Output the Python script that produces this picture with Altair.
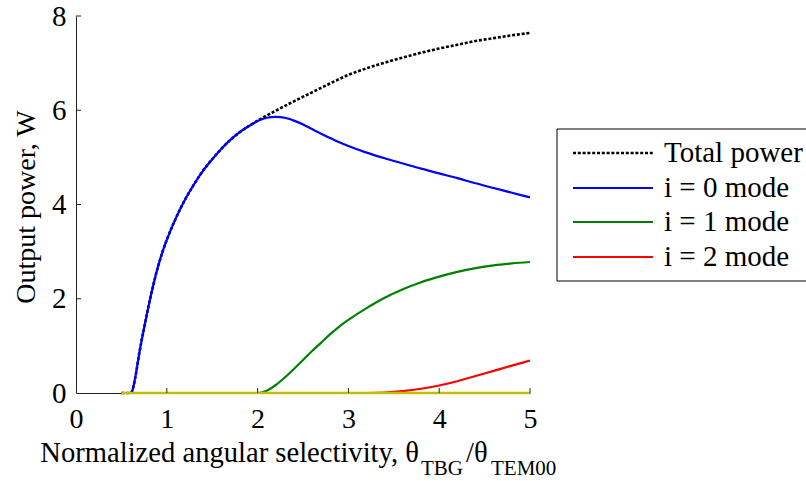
import altair as alt
import pandas as pd

# ---------------- data ----------------
total_x = [0.5, 0.6, 0.62, 0.65, 0.7, 0.75, 0.8, 0.85, 0.9, 0.95, 1.0, 1.1, 1.2, 1.3, 1.4, 1.5, 1.6, 1.7, 1.8, 1.9, 2.0,
           2.2, 2.4, 2.6, 2.8, 3.0, 3.2, 3.4, 3.6, 3.8, 4.0, 4.2, 4.4, 4.6, 4.8, 5.0]
total_y = [0, 0, 0.05, 0.3, 0.88, 1.38, 1.85, 2.28, 2.66, 2.98, 3.25, 3.71, 4.1, 4.43, 4.72, 4.96, 5.18, 5.37, 5.53, 5.66, 5.78,
           5.99, 6.19, 6.38, 6.57, 6.75, 6.89, 7.01, 7.12, 7.22, 7.31, 7.39, 7.47, 7.53, 7.59, 7.64]

i0_x = [0.5, 0.6, 0.62, 0.65, 0.7, 0.75, 0.8, 0.85, 0.9, 0.95, 1.0, 1.1, 1.2, 1.3, 1.4, 1.5, 1.6, 1.7, 1.8, 1.9, 2.0,
        2.1, 2.2, 2.3, 2.4, 2.5, 2.6, 2.7, 2.8, 2.9, 3.0, 3.2, 3.4, 3.6, 3.8, 4.0, 4.2, 4.4, 4.6, 4.8, 5.0]
i0_y = [0, 0, 0.05, 0.3, 0.88, 1.38, 1.85, 2.28, 2.66, 2.98, 3.25, 3.71, 4.1, 4.43, 4.72, 4.96, 5.18, 5.37, 5.53, 5.66, 5.77,
        5.84, 5.86, 5.84, 5.78, 5.70, 5.60, 5.50, 5.41, 5.32, 5.24, 5.10, 4.98, 4.87, 4.76, 4.66, 4.56, 4.45, 4.35, 4.25, 4.15]

i1_x = [0.5, 2.0, 2.1, 2.2, 2.3, 2.4, 2.5, 2.6, 2.7, 2.8, 2.9, 3.0, 3.2, 3.4, 3.6, 3.8, 4.0, 4.2, 4.4, 4.6, 4.8, 5.0]
i1_y = [0, 0, 0.05, 0.17, 0.33, 0.51, 0.70, 0.89, 1.07, 1.25, 1.41, 1.55, 1.80, 2.02, 2.20, 2.35, 2.47, 2.57, 2.65, 2.71, 2.75, 2.78]

i2_x = [0.5, 3.2, 3.4, 3.6, 3.8, 4.0, 4.2, 4.4, 4.6, 4.8, 5.0]
i2_y = [0, 0, 0.01, 0.04, 0.09, 0.16, 0.25, 0.36, 0.47, 0.58, 0.69]

higher_x = [0.5, 5.0]
higher_y = [0, 0]

x_ticks = [0, 1, 2, 3, 4, 5]
y_ticks = [0, 2, 4, 6, 8]

legend_labels = ["Total power", "i = 0 mode", "i = 1 mode", "i = 2 mode"]
legend_colors = ["#000000", "#0000ff", "#008000", "#ff0000"]

x_title_main = "Normalized angular selectivity, \u03b8"
x_title_sub1 = "TBG"
x_title_mid = "/\u03b8"
x_title_sub2 = "TEM00"
y_title = "Output power, W"

# ---------------- layout ----------------
FONT = "Liberation Serif"
L, T = 76, 16
W, H = 454, 377

xs = alt.Scale(domain=[0, 5], nice=False, zero=False)
ys = alt.Scale(domain=[0, 8], nice=False)

X_AX = alt.Axis(values=x_ticks, ticks=False, grid=False, labelFont=FONT, labelFontSize=28,
                labelColor="black", labelPadding=12, domainColor="#222222", domainWidth=1,
                title=None, labelFlush=False)
Y_AX = alt.Axis(values=y_ticks, ticks=False, grid=False, labelFont=FONT, labelFontSize=29,
                labelColor="black", labelPadding=10, domainColor="#222222", domainWidth=1,
                title=None)


def line_layer(xv, yv, color, width=2.2, dash=None):
    df = pd.DataFrame({"x": xv, "y": yv})
    kw = dict(color=color, strokeWidth=width, interpolate="monotone")
    if dash:
        kw["strokeDash"] = dash
    return alt.Chart(df).mark_line(**kw).encode(
        x=alt.X("x:Q", scale=xs, axis=X_AX, title=None),
        y=alt.Y("y:Q", scale=ys, axis=Y_AX, title=None),
    )


layers = []
layers.append(line_layer(total_x, total_y, "#000000", width=2.6, dash=[3, 1.8]))
layers.append(line_layer(i0_x, i0_y, legend_colors[1]))
layers.append(line_layer(i1_x, i1_y, legend_colors[2]))
layers.append(line_layer(i2_x, i2_y, legend_colors[3]))
layers.append(line_layer(higher_x, higher_y, "#bfbf00", width=2.6))

# inward ticks
xt = pd.DataFrame({"x": [v for v in x_ticks if v != 0]})
layers.append(alt.Chart(xt).mark_rule(color="#222222", strokeWidth=1).encode(
    x=alt.X("x:Q", scale=xs, axis=X_AX, title=None),
    y=alt.value(H), y2=alt.value(H - 5)))
yt = pd.DataFrame({"y": [v for v in y_ticks if v != 0]})
layers.append(alt.Chart(yt).mark_rule(color="#222222", strokeWidth=1).encode(
    y=alt.Y("y:Q", scale=ys, axis=Y_AX, title=None),
    x=alt.value(0), x2=alt.value(5)))

one = pd.DataFrame({"a": [0]})

# axis titles
layers.append(alt.Chart(one).mark_text(text=y_title, font=FONT, fontSize=28, angle=270,
                                       align="center", baseline="middle", color="black").encode(
    x=alt.value(27 - L), y=alt.value(207 - T)))
layers.append(alt.Chart(one).mark_text(text=x_title_main, font=FONT, fontSize=28.6,
                                       align="right", baseline="alphabetic", color="black").encode(
    x=alt.value(419 - L), y=alt.value(462 - T)))
layers.append(alt.Chart(one).mark_text(text=x_title_sub1, font=FONT, fontSize=21,
                                       align="left", baseline="alphabetic", color="black").encode(
    x=alt.value(421 - L), y=alt.value(475 - T)))
layers.append(alt.Chart(one).mark_text(text=x_title_mid, font=FONT, fontSize=28.6,
                                       align="left", baseline="alphabetic", color="black").encode(
    x=alt.value(466 - L), y=alt.value(462 - T)))
layers.append(alt.Chart(one).mark_text(text=x_title_sub2, font=FONT, fontSize=21,
                                       align="left", baseline="alphabetic", color="black").encode(
    x=alt.value(491 - L), y=alt.value(475 - T)))

# legend
layers.append(alt.Chart(one).mark_rect(fill="white", stroke="black", strokeWidth=1).encode(
    x=alt.value(557 - L), x2=alt.value(840 - L), y=alt.value(129 - T), y2=alt.value(281 - T)))
row_y = [153, 188, 222, 257]
for i, (lab, col) in enumerate(zip(legend_labels, legend_colors)):
    kw = dict(color=col, strokeWidth=2.6 if i == 0 else 2.2)
    if i == 0:
        kw["strokeDash"] = [3, 1.8]
    layers.append(alt.Chart(one).mark_rule(**kw).encode(
        x=alt.value(573 - L), x2=alt.value(653 - L), y=alt.value(row_y[i] - T)))
    layers.append(alt.Chart(one).mark_text(text=lab, font=FONT, fontSize=29, align="left",
                                           baseline="alphabetic", color="black").encode(
        x=alt.value(664 - L), y=alt.value(row_y[i] + 9 - T)))

chart = alt.layer(*layers).properties(
    width=W, height=H,
    autosize=alt.AutoSizeParams(type="none"),
    padding={"left": L, "top": T, "right": 806 - L - W, "bottom": 481 - T - H},
    background="white",
).configure_view(stroke=None)

chart.save("out.html", embed_options={"renderer": "svg", "actions": False})
